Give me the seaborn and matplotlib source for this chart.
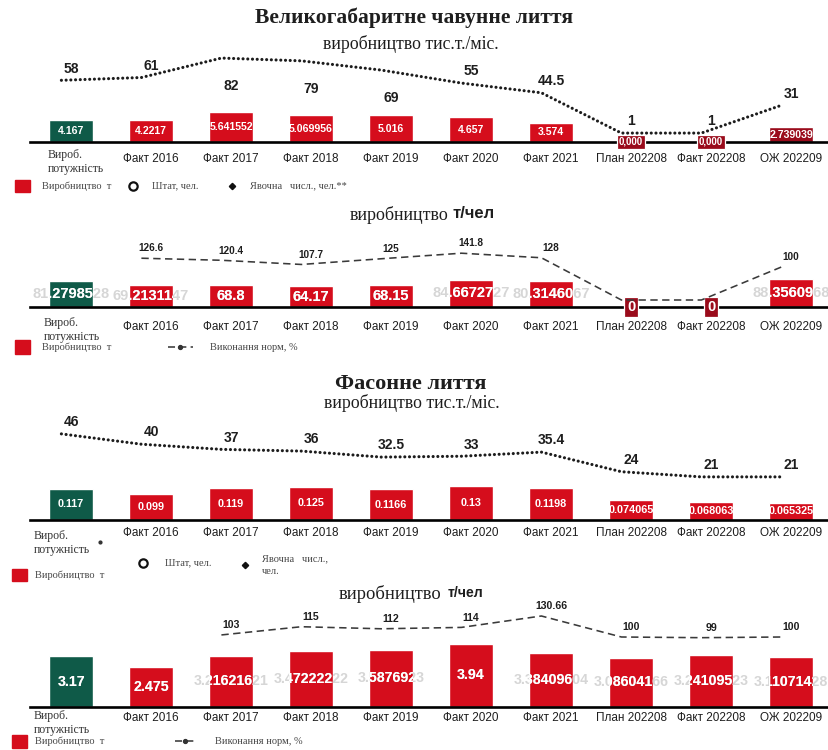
import numpy as np
import pandas as pd
import matplotlib
matplotlib.use("Agg")
import matplotlib.pyplot as plt
from matplotlib.patches import Rectangle
import seaborn as sns

# ---------------------------------------------------------------- data
categories = ["Вироб.\nпотужність", "Факт 2016", "Факт 2017", "Факт 2018", "Факт 2019",
              "Факт 2020", "Факт 2021", "План 202208", "Факт 202208", "ОЖ 202209"]

# Великогабаритне чавунне лиття
large_output = [4.167, 4.2217, 5.641552, 5.069956, 5.016, 4.657, 3.574, 0.0, 0.0, 2.739039]
large_staff = [58, 61, 82, 79, 69, 55, 44.5, 1, 1, 31]
large_per_worker = [81.2798528, 69.2131147, 68.8, 64.17, 68.15, 84.6672727, 80.3146067, 0, 0, 88.3560968]
large_norm = [np.nan, 126.6, 120.4, 107.7, 125, 141.8, 128, 0, 0, 100]

# Фасонне лиття
shaped_output = [0.117, 0.099, 0.119, 0.125, 0.1166, 0.13, 0.1198, 0.074065, 0.068063, 0.065325]
shaped_staff = [46, 40, 37, 36, 32.5, 33, 35.4, 24, 21, 21]
shaped_per_worker = [3.17, 2.475, 3.21621621, 3.47222222, 3.58769230, 3.94, 3.38409604,
                     3.08604166, 3.24109523, 3.11071428]
shaped_norm = [np.nan, np.nan, 103, 115, 112, 114, 130.66, 100, 99, 100]

# ---------------------------------------------------------------- style
GREEN = "#0f5a48"
RED = "#d50d1c"
DARK_RED = "#9a0b1b"
INK = "#1e1e1e"
LEGEND_INK = "#454545"
SERIF = ["Liberation Serif", "DejaVu Serif"]
SANS = ["Liberation Sans", "DejaVu Sans"]

sns.set_style("white")
plt.rcParams["font.family"] = SANS

W, H = 829, 750
AX_LEFT = 30
fig = plt.figure(figsize=(W / 100, H / 100), dpi=100)
fig.patch.set_facecolor("white")

DOTTED = dict(linestyle=(0, (0.01, 1.5)), linewidth=2.25, dash_capstyle="round", color="#1c1c1c")
DASHED = dict(linestyle=(0, (4.6, 2.8)), linewidth=1.15, color="#3a3a3a")


def value_text(v):
    # labels carry at most ten characters
    return f"{v:.10g}"[:10]


def draw_panel(base, top, bars, bar_px, line, line_px, line_zero, line_kw, bar_colors,
               bar_fs, line_fs, tick_pad, zero_text, zero_fs, spill=None, below=(),
               skip_zero_labels=False):
    h = base - top
    ax = fig.add_axes([AX_LEFT / W, 1 - base / H, (W - AX_LEFT) / W, h / H])
    df = pd.DataFrame({"cat": categories, "val": bars})
    sns.barplot(data=df, x="cat", y="val", hue="cat", palette=bar_colors, legend=False,
                width=0.56, saturation=1, ax=ax)
    ax.set_xlim(-0.5125, 9.475)
    ax.set_ylim(0, h / bar_px)
    ax.set_yticks([])
    ax.set_xlabel("")
    ax.set_ylabel("")
    ax.set_xticks(range(len(categories)))
    ax.set_xticklabels([""] + categories[1:])
    ax.tick_params(axis="x", length=0, pad=tick_pad, labelsize=8.5, labelcolor=INK)
    for s in ("top", "right", "left"):
        ax.spines[s].set_visible(False)
    ax.spines["bottom"].set_linewidth(1.9)
    ax.spines["bottom"].set_color("black")

    # value labels centred in each bar
    patches = sorted(ax.patches, key=lambda p: p.get_x())
    for bar, v in zip(patches, bars):
        xc = bar.get_x() + bar.get_width() / 2
        if v == 0:
            ax.text(xc, 0, zero_text, ha="center", va="center", color="white",
                    fontsize=zero_fs, fontweight="bold", zorder=6, clip_on=False,
                    bbox=dict(boxstyle="square,pad=0.22", fc=DARK_RED, ec="white", lw=0.9))
            continue
        txt = value_text(v)
        if spill:
            ax.text(xc, v / 2, txt, ha="center", va="center", color=spill,
                    fontsize=bar_fs, fontweight="bold", zorder=4)
        t = ax.text(xc, v / 2, txt, ha="center", va="center", color="white",
                    fontsize=bar_fs, fontweight="bold", zorder=5, clip_on=True)
        t.set_clip_path(bar)

    # line on its own scale
    ax2 = ax.twinx()
    ld = pd.DataFrame({"x": np.arange(len(categories)) - 0.12, "y": line}).dropna()
    sns.lineplot(data=ld, x="x", y="y", ax=ax2, sort=False, **line_kw)
    ax2.set_xlim(-0.5125, 9.475)
    ax2.set_ylim(-line_zero / line_px, (h - line_zero) / line_px)
    ax2.set_yticks([])
    ax2.set_ylabel("")
    ax2.set_xlabel("")
    for s in ax2.spines.values():
        s.set_visible(False)
    for i, v in enumerate(line):
        if np.isnan(v) or (skip_zero_labels and v == 0):
            continue
        if i in below:
            ax2.annotate(f"{v:g}", (i, v), xytext=(0, -15), textcoords="offset points",
                         ha="center", va="top", fontsize=line_fs, fontweight="bold", color=INK)
        else:
            ax2.annotate(f"{v:g}", (i, v), xytext=(0, 3.4), textcoords="offset points",
                         ha="center", va="bottom", fontsize=line_fs, fontweight="bold", color=INK)
    return ax


colors_large = [GREEN] + [RED] * 8 + [DARK_RED]
colors_std = [GREEN] + [RED] * 9

draw_panel(142, 50, large_output, 5.32, large_staff, 0.926, 8, DOTTED, colors_large,
           bar_fs=7.6, line_fs=10, tick_pad=8, zero_text="0,000", zero_fs=7,
           below=(2, 3, 4))
draw_panel(307, 232, large_per_worker, 0.32, large_norm, 0.33, 7, DASHED, colors_std,
           bar_fs=10.5, line_fs=7.2, tick_pad=10, zero_text="0", zero_fs=10.5,
           spill="#d6d6d6", skip_zero_labels=True)
draw_panel(520, 415, shaped_output, 265, shaped_staff, 1.72, 7, DOTTED, colors_std,
           bar_fs=7.8, line_fs=10, tick_pad=5, zero_text="0", zero_fs=8)
draw_panel(707, 605, shaped_per_worker, 16, shaped_norm, 0.685, 1.5, DASHED, colors_std,
           bar_fs=10.2, line_fs=7.6, tick_pad=3.6, zero_text="0", zero_fs=10,
           spill="#d6d6d6")

# ---------------------------------------------------------------- titles & legends
ov = fig.add_axes([0, 0, 1, 1], zorder=10)
ov.set_xlim(0, W)
ov.set_ylim(H, 0)
ov.axis("off")


def serif(x, y, s, size=11, weight="normal", ha="center", color=INK):
    ov.text(x, y, s, ha=ha, va="center", family=SERIF, fontsize=size, fontweight=weight, color=color)


serif(414, 18, "Великогабаритне чавунне лиття", 15.5, "bold")
serif(411, 44, "виробництво тис.т./міс.", 12.8)
serif(448, 215, "виробництво", 13, ha="right")
ov.text(453, 214, "т/чел", ha="left", va="center", fontsize=12, fontweight="bold", color=INK)
serif(411, 384, "Фасонне лиття", 16, "bold")
serif(412, 403, "виробництво тис.т./міс.", 12.8)
serif(441, 594, "виробництво", 13.3, ha="right")
ov.text(448, 593, "т/чел", ha="left", va="center", fontsize=10.2, fontweight="bold", color=INK)

# first category caption (two lines, serif)
for x, y in ((48, 162), (44, 330), (34, 543), (34, 723)):
    ov.text(x, y, categories[0], ha="left", va="center", family=SERIF, fontsize=8.5,
            color="#333333", linespacing=1.15)
ov.plot([100], [542], marker="o", ms=2, color="#333333")


def leg_box(x, y, w=15, h=12):
    ov.add_patch(Rectangle((x, y - h / 2), w, h, color=RED))


def leg_text(x, y, s):
    ov.text(x, y, s, ha="left", va="center", family=SERIF, fontsize=7.5, color=LEGEND_INK)


def leg_circle(x, y):
    ov.plot([x], [y], marker="o", ms=6, mfc="white", mec="#111111", mew=1.6)


def leg_dot(x, y):
    ov.plot([x], [y], marker="D", ms=3.2, color="#111111")


def leg_dash(x0, x1, y):
    ov.plot([x0, x1], [y, y], color="#333333", lw=1.1, linestyle=(0, (4.6, 2.8)))
    ov.plot([(x0 + x1) / 2], [y], marker="o", ms=2.8, color="#333333")


# panel 1
leg_box(15, 186)
leg_text(42, 186, "Виробництво  т")
leg_circle(133, 186)
leg_text(152, 186, "Штат, чел.")
leg_dot(232, 186)
leg_text(250, 186, "Явочна   числ., чел.**")
# panel 2
leg_box(15, 347, h=14)
leg_text(42, 347, "Виробництво  т")
leg_dash(168, 193, 347)
leg_text(210, 347, "Виконання норм, %")
# panel 3
leg_box(12, 575)
leg_text(35, 575, "Виробництво  т")
leg_circle(143, 563)
leg_text(165, 563, "Штат, чел.")
leg_dot(245, 565)
leg_text(262, 559, "Явочна   числ.,")
leg_text(262, 571, "чел.")
# panel 4
leg_box(12, 741, h=13)
leg_text(35, 741, "Виробництво  т")
leg_dash(175, 195, 741)
leg_text(215, 741, "Виконання норм, %")

fig.savefig("out.png", dpi=100, facecolor="white")
